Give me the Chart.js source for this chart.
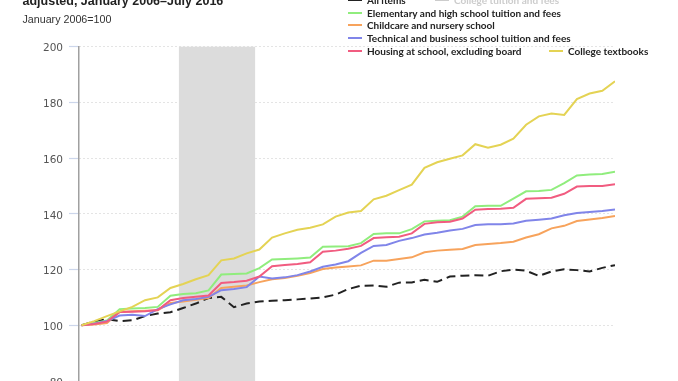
<!DOCTYPE html>
<html><head><meta charset="utf-8">
<script src="https://cdn.jsdelivr.net/npm/chart.js@4"></script>
<style>
html,body{margin:0;padding:0;width:678px;height:381px;overflow:hidden;background:#fff;}
#wrap{position:relative;width:678px;height:381px;overflow:hidden;}
#c{position:absolute;left:0;top:0;}
.title{position:absolute;left:22.5px;top:-5px;font:bold 12.5px/12.5px "Liberation Sans",Arial,sans-serif;color:#222;white-space:nowrap;}
.sub{position:absolute;left:22.5px;top:14.4px;font:10.7px/10.7px "Liberation Sans",Arial,sans-serif;color:#333;white-space:nowrap;}
.lg{position:absolute;height:12px;font:bold 10px/12px Lato,sans-serif;color:#222;white-space:nowrap;display:flex;align-items:center;}
.lg i{display:inline-block;width:14px;height:2px;margin-right:5px;}
</style></head>
<body>
<div id="wrap">
  <canvas id="c" width="678" height="400"></canvas>
  <div class="title">adjusted, January 2006–July 2016</div>
  <div class="sub">January 2006=100</div>
  <div id="legend"></div>
</div>
<script>
// ---- data (months since January 2006) ----
const months = [0,3,6,9,12,15,18,21,24,27,30,33,36,39,42,45,48,51,54,57,60,63,66,69,72,75,78,81,84,87,90,93,96,99,102,105,108,111,114,117,120,123,126];
const allItems = [100,101.3,102.2,101.5,101.8,103.3,104.2,104.7,106.2,107.8,109.8,110.2,106.5,107.8,108.5,108.8,109.0,109.3,109.6,110.0,111.0,113.0,114.2,114.3,113.8,115.3,115.4,116.3,115.6,117.5,117.8,118.0,117.8,119.4,120.0,119.6,117.7,119.3,120.1,119.8,119.3,120.6,121.6];
const elementary = [100,100.8,101.7,105.8,106.0,106.2,106.6,110.6,111.2,111.5,112.5,118.2,118.4,118.6,120.5,123.6,123.8,124.0,124.3,128.2,128.3,128.4,129.5,132.8,133.0,133.0,134.5,137.3,137.5,137.7,139.0,142.7,142.9,142.9,145.5,148.1,148.2,148.6,151.0,153.8,154.1,154.3,155.1];
const childcare = [100,100.3,100.8,104.8,105.0,105.2,105.4,108.0,108.5,109.2,109.8,113.4,113.8,114.3,115.5,116.5,117.0,117.8,118.8,120.2,120.7,121.1,121.5,123.2,123.2,123.8,124.4,126.2,126.8,127.1,127.4,128.8,129.2,129.5,130.0,131.5,132.7,134.8,135.7,137.4,138.0,138.5,139.2];
const technical = [100,100.6,101.5,103.5,103.8,103.3,105.8,107.5,109.0,109.4,110.2,112.6,113.0,113.7,117.5,116.8,117.2,118.0,119.3,121.0,121.8,123.0,126.0,128.5,128.8,130.3,131.3,132.6,133.2,134.0,134.6,136.0,136.3,136.3,136.5,137.5,137.9,138.3,139.5,140.3,140.7,141.0,141.6];
const housing = [100,100.5,101.3,104.8,104.9,105.0,105.5,109.0,109.8,110.2,110.7,115.2,115.5,116.0,117.5,121.2,121.6,122.0,122.6,126.4,126.8,127.5,128.5,131.3,131.6,131.8,133.0,136.4,137.0,137.2,138.3,141.5,141.7,141.8,142.2,145.4,145.6,145.8,147.2,149.8,150.0,150.0,150.6];
const textbooks = [100,101.5,103.3,105.0,106.6,109.0,110.0,113.4,114.8,116.5,118.0,123.3,124.0,125.8,127.2,131.5,133.0,134.3,135.0,136.2,139.0,140.5,141.0,145.2,146.5,148.5,150.5,156.5,158.5,159.8,161.0,165.0,163.7,164.8,167.0,172.0,175.0,176.0,175.5,181.2,183.2,184.2,187.6];
const seriesNames = ["All items","College tuition and fees","Elementary and high school tuition and fees","Childcare and nursery school","Technical and business school tuition and fees","Housing at school, excluding board","College textbooks"];
const yTicks = [80,100,120,140,160,180,200];
const recession = [23, 41]; // December 2007 – June 2009

// ---- styles ----
const colors = ["#222222","#cccccc","#90ed7d","#f7a35c","#8085e9","#f15c80","#e4d354"];
const seriesData = [allItems, null, elementary, childcare, technical, housing, textbooks];

const datasets = [];
seriesData.forEach((vals, i) => {
  if (!vals) return;
  datasets.push({
    label: seriesNames[i],
    data: months.map((m, k) => ({x: m, y: vals[k]})),
    borderColor: colors[i],
    borderWidth: 2,
    borderDash: i === 0 ? [9,5] : [],
    pointRadius: 0,
    tension: 0,
    fill: false,
    order: i === 0 ? 10 : 7 - i
  });
});

const shade = {
  id: 'shade',
  beforeDatasetsDraw(chart) {
    const {ctx, chartArea, scales: {x}} = chart;
    const x0 = x.getPixelForValue(recession[0]);
    const x1 = x.getPixelForValue(recession[1]);
    ctx.save();
    ctx.fillStyle = '#dcdcdc';
    ctx.fillRect(x0, chartArea.top, x1 - x0, chartArea.bottom - chartArea.top);
    ctx.restore();
  }
};

new Chart(document.getElementById('c'), {
  type: 'line',
  data: {datasets},
  plugins: [shade],
  options: {
    responsive: false,
    animation: false,
    devicePixelRatio: 1,
    layout: {padding: {left: 0, right: 63, top: 46.7, bottom: 19}},
    plugins: {legend: {display: false}, tooltip: {enabled: false}},
    scales: {
      x: {type: 'linear', min: -0.6, max: 126, display: false},
      y: {
        min: 80, max: 200,
        afterFit(s) { s.width = 79; },
        afterBuildTicks(s) { s.ticks = yTicks.map(v => ({value: v})); },
        border: {display: true, color: '#a0a0a0', width: 1.5, dash: [1,3]},
        grid: {color: '#c8c8c8', lineWidth: 1, tickColor: '#ccd6eb', tickLength: 10, tickBorderDash: [0,0], tickWidth: 1.2},
        ticks: {padding: 6, labelOffset: 2, color: '#555', font: {family: 'DejaVu Sans', size: 10.5}}
      }
    }
  }
});

// ---- legend ----
const legendPos = [
  [348, -6], [435, -6],
  [348, 6.5], [348, 19], [348, 31.5], [348, 44.5], [549, 44.5]
];
const lg = document.getElementById('legend');
seriesNames.forEach((n, i) => {
  const d = document.createElement('div');
  d.className = 'lg';
  d.style.left = legendPos[i][0] + 'px';
  d.style.top = legendPos[i][1] + 'px';
  if (i === 1) d.style.color = '#cccccc';
  d.innerHTML = '<i style="background:' + colors[i] + '"></i>' + n;
  lg.appendChild(d);
});
</script>
</body></html>
